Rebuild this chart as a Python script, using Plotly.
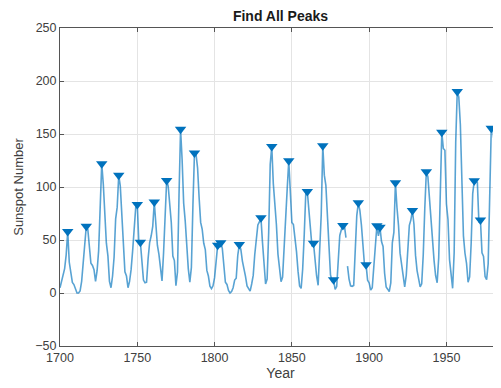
import plotly.graph_objects as go
import numpy as np

years = list(range(1700, 1988))
sunspots = [
    5, 11, 16, 23, 36, 58, 29, 20, 10, 8, 3, 0, 0, 2, 11, 27, 47, 63, 60, 39,
    28, 26, 22, 11, 21, 40, 78, 122, 103, 73, 47, 35, 11, 5, 16, 34, 70, 81, 111, 101,
    73, 40, 20, 16, 5, 11, 22, 40, 60, 80.9, 83.4, 47.7, 47.8, 30.7, 12.2, 9.6, 10.2, 32.4, 47.6, 54.0,
    62.9, 85.9, 61.2, 45.1, 36.4, 20.9, 11.4, 37.8, 69.8, 106.1, 100.8, 81.6, 66.5, 34.8, 30.6, 7.0, 19.8, 92.5, 154.4, 125.9,
    84.8, 68.1, 38.5, 22.8, 10.2, 24.1, 82.9, 132.0, 130.9, 118.1, 89.9, 66.6, 60.0, 46.9, 41.0, 21.3, 16.0, 6.4, 4.1, 6.8,
    14.5, 34.0, 45.0, 43.1, 47.5, 42.2, 28.1, 10.1, 8.1, 2.5, 0.0, 1.4, 5.0, 12.2, 13.9, 35.4, 45.8, 41.1, 30.1, 23.9,
    15.6, 6.6, 4.0, 1.8, 8.5, 16.6, 36.3, 49.6, 64.2, 67.0, 70.9, 47.8, 27.5, 8.5, 13.2, 56.9, 121.5, 138.3, 103.2, 85.7,
    64.6, 36.7, 24.2, 10.7, 15.0, 40.1, 61.5, 98.5, 124.7, 96.3, 66.6, 64.5, 54.1, 39.0, 20.6, 6.7, 4.3, 22.7, 54.8, 93.8,
    95.8, 77.2, 59.1, 44.0, 47.0, 30.5, 16.3, 7.3, 37.6, 74.0, 139.0, 111.2, 101.6, 66.2, 44.7, 17.0, 11.3, 12.4, 3.4, 6.0,
    32.3, 54.3, 59.7, 63.7, 63.5, 52.2, 25.4, 13.1, 6.8, 6.3, 7.1, 35.6, 73.0, 85.1, 78.0, 64.0, 41.8, 26.2, 26.7, 12.1,
    9.5, 2.7, 5.0, 24.4, 42.0, 63.5, 53.8, 62.0, 48.5, 43.9, 18.6, 5.7, 3.6, 1.4, 9.6, 47.4, 57.1, 103.9, 80.6, 63.6,
    37.6, 26.1, 14.2, 5.8, 16.7, 44.3, 63.9, 69.0, 77.8, 64.9, 35.7, 21.2, 11.1, 5.7, 8.7, 36.1, 79.7, 114.4, 109.6, 88.8,
    67.8, 47.5, 30.6, 16.3, 9.6, 33.2, 92.6, 151.6, 136.3, 134.7, 83.9, 69.4, 31.5, 13.9, 4.4, 38.0, 141.7, 190.2, 184.8, 159.0,
    112.3, 53.9, 37.5, 27.9, 10.2, 15.1, 47.0, 93.8, 105.9, 105.5, 104.5, 66.6, 68.9, 38.0, 34.5, 15.5, 12.6, 27.5, 92.5, 155.4,
    154.6, 140.4, 115.9, 66.6, 45.9, 17.9, 13.4, 29.2,
]
x_ticks = [1700, 1750, 1800, 1850, 1900, 1950]
y_ticks = [-50, 0, 50, 100, 150, 200, 250]

# local maxima (findpeaks)
y_arr = np.array(sunspots)
pk = [i for i in range(1, len(y_arr) - 1) if y_arr[i] > y_arr[i - 1] and y_arr[i] > y_arr[i + 1]]
pk_years = [years[i] for i in pk]
pk_vals = [sunspots[i] for i in pk]

blue = "#0072BD"
split = years.index(1886)

fig = go.Figure()
fig.add_trace(go.Scatter(x=years[:split], y=sunspots[:split], mode="lines",
                         line=dict(color=blue, width=1.6), opacity=0.65, showlegend=False))
fig.add_trace(go.Scatter(x=years[split:], y=sunspots[split:], mode="lines",
                         line=dict(color=blue, width=1.6), opacity=0.65, showlegend=False))
fig.add_trace(go.Scatter(x=pk_years, y=pk_vals, mode="markers",
                         marker=dict(symbol="triangle-down", size=10, color=blue,
                                     line=dict(width=0)), showlegend=False))

fam = "Liberation Sans, Arial, sans-serif"
axis_font = dict(family=fam, size=12.5, color="#404040")
fig.update_layout(
    width=493, height=380,
    margin=dict(l=52, r=0, t=20, b=42, autoexpand=False),
    paper_bgcolor="white", plot_bgcolor="white",
    title=dict(text="<b>Find All Peaks</b>", x=0.5, xref="paper", xanchor="center",
               y=1 - 8.5 / 380, yref="container", yanchor="middle",
               font=dict(family=fam, size=14, color="#1a1a1a")),
    xaxis=dict(range=[1700, 1985.3], tickvals=x_ticks, ticks="inside", ticklen=4,
               tickcolor="#555", showline=True, linecolor="#555", linewidth=1, mirror="ticks",
               showgrid=True, gridcolor="#e4e4e4", gridwidth=1, zeroline=False,
               tickfont=axis_font, automargin=False,
               title=dict(text="Year", standoff=4,
                          font=dict(family=fam, size=14, color="#404040"))),
    yaxis=dict(range=[-50, 250], tickvals=y_ticks, ticks="inside", ticklen=4,
               tickcolor="#555", showline=True, linecolor="#555", linewidth=1, mirror="ticks",
               showgrid=True, gridcolor="#e4e4e4", gridwidth=1, zeroline=False,
               tickfont=axis_font, automargin=False,
               title=dict(text="Sunspot Number", standoff=8,
                          font=dict(family=fam, size=13, color="#404040"))),
)
fig.write_html("out.html")
